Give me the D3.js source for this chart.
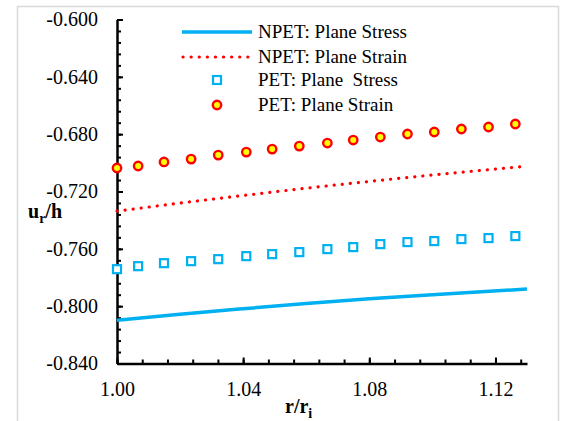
<!DOCTYPE html>
<html>
<head>
<meta charset="utf-8">
<script src="https://cdn.jsdelivr.net/npm/d3@7"></script>
<style>
  body { margin: 0; background: #fff; }
  svg text { font-family: "Liberation Serif", "Times New Roman", serif; fill: #000; }
</style>
</head>
<body>
<svg id="chart" width="561" height="421"></svg>
<script>
// r/ri positions of the PET markers
var markerX = [1.0000, 1.0067, 1.0149, 1.0235, 1.0321, 1.0410, 1.0492, 1.0578,
               1.0667, 1.0749, 1.0835, 1.0921, 1.1006, 1.1092, 1.1178, 1.1263];
var petStress = [-0.7742, -0.7721, -0.7700, -0.7686, -0.7672, -0.7651, -0.7637, -0.7623,
                 -0.7602, -0.7588, -0.7567, -0.7553, -0.7546, -0.7532, -0.7525, -0.7511];
var petStrain = [-0.7036, -0.7022, -0.6994, -0.6974, -0.6946, -0.6925, -0.6904, -0.6883,
                 -0.6862, -0.6841, -0.6820, -0.6799, -0.6785, -0.6764, -0.6750, -0.6729];

// NPET curves
var lineX = [1.00, 1.02, 1.04, 1.06, 1.08, 1.10, 1.13];
var npetStress = [-0.8098, -0.8056, -0.8018, -0.7982, -0.7949, -0.7920, -0.7881];
var npetStrain = [-0.7337, -0.7281, -0.7228, -0.7177, -0.7130, -0.7085, -0.7023];

var xTicks = [1.00, 1.04, 1.08, 1.12];
var yTicks = [-0.84, -0.80, -0.76, -0.72, -0.68, -0.64, -0.60];
var legendNames = ["NPET: Plane Stress", "NPET: Plane Strain", "PET: Plane \u00a0Stress", "PET: Plane Strain"];

var blue = "#00b0f0", red = "#ff0000", yellow = "#ffff00";
var serif = "'Liberation Serif', 'Times New Roman', serif";

var svg = d3.select("#chart");

// outer chart border
svg.append("rect")
    .attr("x", 17.5).attr("y", 6.5)
    .attr("width", 541).attr("height", 430)
    .attr("fill", "none").attr("stroke", "#d9d9d9").attr("stroke-width", 1.5);

var x = d3.scaleLinear().domain([1.00, 1.13]).range([117, 527]);
var y = d3.scaleLinear().domain([-0.84, -0.60]).range([363.5, 19.5]);

var minorX = d3.range(0, 17).map(function(i) { return 1 + i * 0.008; }).filter(function(v) { return v <= 1.1301; });
var minorY = d3.range(0, 31).map(function(i) { return -0.84 + i * 0.008; });

// plain hyphen minus like the original
function fmt(p) {
    return function(v) { return v.toFixed(p); };
}

// y axis: ticks on the inside, labels on the left
var gy = svg.append("g").attr("transform", "translate(117,0)");
gy.call(d3.axisRight(y).tickValues(minorY).tickSize(4).tickSizeOuter(0).tickFormat(""));
gy.append("g").call(d3.axisRight(y).tickValues(yTicks).tickSize(6).tickSizeOuter(0).tickFormat(""))
    .select(".domain").remove();
svg.append("g").attr("transform", "translate(117,0)")
    .call(d3.axisLeft(y).tickValues(yTicks).tickSize(0).tickPadding(19).tickFormat(fmt(3)))
    .call(function(g) { g.select(".domain").remove(); })
    .selectAll("text").style("font-family", serif).style("font-size", "20px");

// x axis: ticks pointing up
var gx = svg.append("g").attr("transform", "translate(0,363.5)");
gx.call(d3.axisTop(x).tickValues(minorX).tickSize(4).tickSizeOuter(0).tickFormat(""));
gx.append("g").call(d3.axisTop(x).tickValues(xTicks).tickSize(6).tickSizeOuter(0).tickFormat(""))
    .select(".domain").remove();
svg.append("g").attr("transform", "translate(0,363.5)")
    .call(d3.axisBottom(x).tickValues(xTicks).tickSize(0).tickPadding(18).tickFormat(fmt(2)))
    .call(function(g) { g.select(".domain").remove(); })
    .selectAll("text").style("font-family", serif).style("font-size", "20px");

svg.selectAll(".domain").attr("stroke", "#000").attr("stroke-width", 2.5);
svg.selectAll(".tick line").attr("stroke", "#000").attr("stroke-width", 2);

// axis titles
var yt = svg.append("text").attr("x", 28).attr("y", 218)
    .style("font-size", "20px").style("font-weight", "bold");
yt.append("tspan").text("u");
yt.append("tspan").attr("dy", 5).style("font-size", "14px").text("r");
yt.append("tspan").attr("dy", -5).text("/h");

var xt = svg.append("text").attr("x", 285).attr("y", 413)
    .style("font-size", "20px").style("font-weight", "bold");
xt.append("tspan").text("r/r");
xt.append("tspan").attr("dy", 5).style("font-size", "14px").text("i");

// lines
var line = d3.line()
    .x(function(d) { return x(d[0]); })
    .y(function(d) { return y(d[1]); })
    .curve(d3.curveMonotoneX);

svg.append("path")
    .datum(d3.zip(lineX, npetStress))
    .attr("d", line)
    .attr("fill", "none").attr("stroke", blue).attr("stroke-width", 3.5);

svg.append("path")
    .datum(d3.zip(lineX, npetStrain))
    .attr("d", line)
    .attr("fill", "none").attr("stroke", red).attr("stroke-width", 3.2)
    .attr("stroke-linecap", "round").attr("stroke-dasharray", "0.1 8");

// markers
svg.append("g").selectAll("rect")
    .data(d3.zip(markerX, petStress))
    .enter().append("rect")
    .attr("x", function(d) { return x(d[0]) - 4; })
    .attr("y", function(d) { return y(d[1]) - 4; })
    .attr("width", 8).attr("height", 8)
    .attr("fill", "#fff").attr("stroke", blue).attr("stroke-width", 2.2);

svg.append("g").selectAll("circle")
    .data(d3.zip(markerX, petStrain))
    .enter().append("circle")
    .attr("cx", function(d) { return x(d[0]); })
    .attr("cy", function(d) { return y(d[1]); })
    .attr("r", 4.2)
    .attr("fill", yellow).attr("stroke", red).attr("stroke-width", 2.4);

// legend
var lg = svg.append("g");
var rowY = [32, 57, 80, 105];
lg.append("line").attr("x1", 182).attr("x2", 252).attr("y1", rowY[0]).attr("y2", rowY[0])
    .attr("stroke", blue).attr("stroke-width", 3.5);
lg.append("line").attr("x1", 183).attr("x2", 252).attr("y1", rowY[1]).attr("y2", rowY[1])
    .attr("stroke", red).attr("stroke-width", 3.2)
    .attr("stroke-linecap", "round").attr("stroke-dasharray", "0.1 8");
lg.append("rect").attr("x", 213).attr("y", rowY[2] - 4).attr("width", 8).attr("height", 8)
    .attr("fill", "#fff").attr("stroke", blue).attr("stroke-width", 2.2);
lg.append("circle").attr("cx", 217).attr("cy", rowY[3]).attr("r", 4.2)
    .attr("fill", yellow).attr("stroke", red).attr("stroke-width", 2.4);
lg.selectAll("text.leg")
    .data(legendNames)
    .enter().append("text")
    .attr("class", "leg")
    .attr("x", 258)
    .attr("y", function(d, i) { return rowY[i] + 6; })
    .style("font-size", "19px")
    .text(function(d) { return d; });
</script>
</body>
</html>
